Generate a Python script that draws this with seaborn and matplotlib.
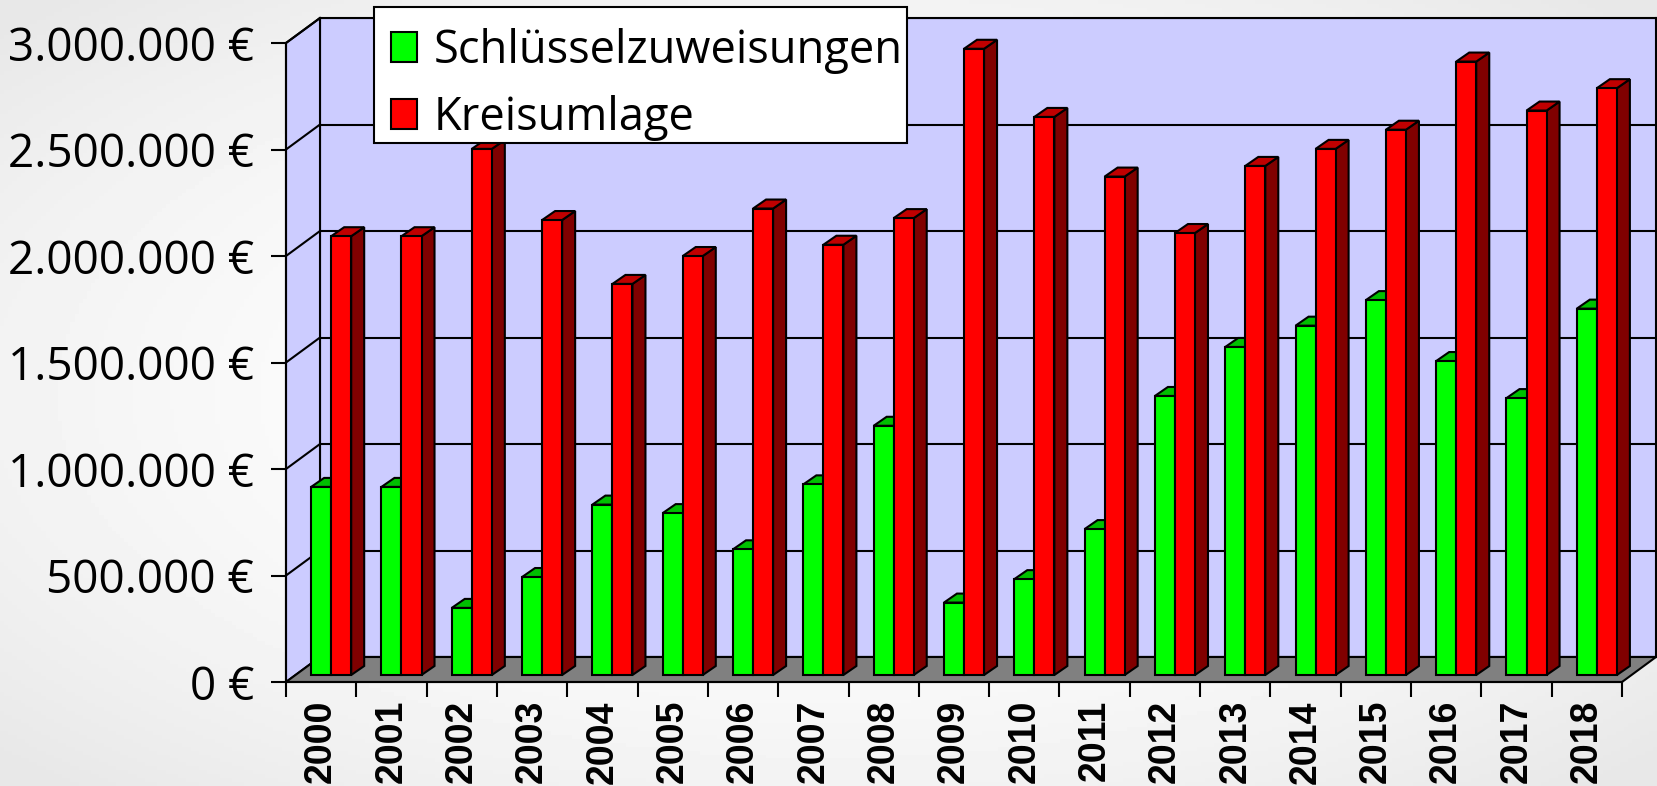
import numpy as np
import pandas as pd
import matplotlib
matplotlib.use("Agg")
import matplotlib.pyplot as plt
from matplotlib.patches import Polygon, Patch, Rectangle
from matplotlib.lines import Line2D
import seaborn as sns

# ---------------- data ----------------
years = ["2000", "2001", "2002", "2003", "2004", "2005", "2006", "2007", "2008", "2009",
         "2010", "2011", "2012", "2013", "2014", "2015", "2016", "2017", "2018"]
schluesselzuweisungen = [883000, 883000, 315000, 460000, 800000, 760000, 590000, 895000, 1170000, 340000,
                         450000, 685000, 1310000, 1540000, 1640000, 1760000, 1474000, 1300000, 1720000]
kreisumlage = [2060000, 2060000, 2470000, 2136000, 1836000, 1967000, 2190000, 2020000, 2145000, 2940000,
               2620000, 2340000, 2075000, 2390000, 2470000, 2560000, 2880000, 2650000, 2755000]
series_names = ["Schlüsselzuweisungen", "Kreisumlage"]
ytick_values = [0, 500000, 1000000, 1500000, 2000000, 2500000, 3000000]
ytick_labels = ["0 €", "500.000 €", "1.000.000 €", "1.500.000 €", "2.000.000 €", "2.500.000 €", "3.000.000 €"]

df = pd.DataFrame({
    "Jahr": years * 2,
    "Betrag": schluesselzuweisungen + kreisumlage,
    "Reihe": [series_names[0]] * len(years) + [series_names[1]] * len(years),
})

# ---------------- style ----------------
front_col = {series_names[0]: "#00FF00", series_names[1]: "#FF0000"}
top_col = {"#00FF00": "#00C000", "#FF0000": "#C00000"}
side_col = {"#00FF00": "#008000", "#FF0000": "#800000"}
wall_col = "#CCCCFF"
floor_col = "#808080"
LW = 1.5

W, H = 1657, 786
fig = plt.figure(figsize=(W / 100, H / 100), dpi=100)

# background radial gradient
bg = fig.add_axes([0, 0, 1, 1], zorder=-10)
gx, gy = np.meshgrid(np.linspace(-1, 1, 400), np.linspace(-1, 1, 200))
rr = np.clip(np.sqrt(gx ** 2 + gy ** 2) / 1.35, 0, 1)
bg.imshow(1 - 0.09 * rr ** 2, cmap="gray", vmin=0, vmax=1, aspect="auto", extent=[0, 1, 0, 1])
bg.axis("off")


def axpos(left, right, y0, ytop):
    return [left / W, (H - y0) / H, (right - left) / W, (y0 - ytop) / H]


# planes: front, bar, back (pixel geometry of the oblique 3D box)
ax_back = fig.add_axes(axpos(320, 1656, 657, 18), zorder=0)
ax_bars = fig.add_axes(axpos(296, 1632, 675, 36), zorder=1)
ax_front = fig.add_axes(axpos(286, 1622, 682, 43), zorder=2)

n = len(years)
xlim = (-0.5, n - 0.5)
ylim = (0, 3000000)

# ---- back wall ----
ax_back.set_facecolor(wall_col)
ax_back.set_xlim(*xlim)
ax_back.set_ylim(*ylim)
ax_back.set_xticks([])
ax_back.set_yticks(ytick_values)
ax_back.tick_params(left=False, labelleft=False)
ax_back.grid(axis="y", color="black", linewidth=LW)
for s in ax_back.spines.values():
    s.set_color("black")
    s.set_linewidth(LW)

# ---- bars (front faces via seaborn) ----
ax_bars.patch.set_alpha(0)
sns.barplot(data=df, x="Jahr", y="Betrag", hue="Reihe", hue_order=series_names,
            palette=front_col, width=0.57, gap=0, saturation=1, errorbar=None,
            edgecolor="black", linewidth=LW, legend=False, ax=ax_bars)
ax_bars.set_xlim(*xlim)
ax_bars.set_ylim(*ylim)
ax_bars.axis("off")

fig.canvas.draw()
bb = ax_bars.get_window_extent()
ddx = 13 / (bb.width / (xlim[1] - xlim[0]))
ddy = 9 / (bb.height / (ylim[1] - ylim[0]))

for p in list(ax_bars.patches):
    x0 = p.get_x()
    x1 = x0 + p.get_width()
    h = p.get_height()
    fc = matplotlib.colors.to_hex(p.get_facecolor()).upper()
    z = 2 if fc == "#00FF00" else 4
    p.set_zorder(z + 0.5)
    side = Polygon([(x1, 0), (x1, h), (x1 + ddx, h + ddy), (x1 + ddx, ddy)], closed=True,
                   facecolor=side_col[fc], edgecolor="black", linewidth=LW, zorder=z, clip_on=False)
    top = Polygon([(x0, h), (x1, h), (x1 + ddx, h + ddy), (x0 + ddx, h + ddy)], closed=True,
                  facecolor=top_col[fc], edgecolor="black", linewidth=LW, zorder=z, clip_on=False)
    ax_bars.add_patch(side)
    ax_bars.add_patch(top)
    p.set_clip_on(False)

# ---- floor and side wall (from the plane geometry) ----
ax_front.set_xlim(*xlim)
ax_front.set_ylim(*ylim)
fig.canvas.draw()
to_fig = fig.transFigure.inverted()


def fpt(ax, x, y):
    return to_fig.transform(ax.transData.transform((x, y)))


floor = Polygon([fpt(ax_front, xlim[0], 0), fpt(ax_front, xlim[1], 0),
                 fpt(ax_back, xlim[1], 0), fpt(ax_back, xlim[0], 0)], closed=True,
                transform=fig.transFigure, facecolor=floor_col, edgecolor="black",
                linewidth=LW, zorder=0.5, clip_on=False)
ax_bars.add_patch(floor)

side_wall = Polygon([fpt(ax_front, xlim[0], 0), fpt(ax_front, xlim[0], ylim[1]),
                     fpt(ax_back, xlim[0], ylim[1]), fpt(ax_back, xlim[0], 0)], closed=True,
                    transform=fig.transFigure, facecolor=wall_col, edgecolor="black",
                    linewidth=LW, zorder=0.4, clip_on=False)
ax_bars.add_patch(side_wall)
for v in ytick_values[1:]:
    a = fpt(ax_front, xlim[0], v)
    b = fpt(ax_back, xlim[0], v)
    ax_bars.add_line(Line2D([a[0], b[0]], [a[1], b[1]], transform=fig.transFigure,
                            color="black", linewidth=LW, zorder=0.45, clip_on=False))

# ---- front axes: ticks & labels ----
ax_front.patch.set_alpha(0)
for k in ["top", "right"]:
    ax_front.spines[k].set_visible(False)
for k in ["left", "bottom"]:
    ax_front.spines[k].set_color("black")
    ax_front.spines[k].set_linewidth(LW)
ax_front.set_yticks(ytick_values)
ax_front.set_yticklabels(ytick_labels, fontfamily="Open Sans", fontsize=33)
ax_front.tick_params(axis="y", direction="out", length=11, width=LW, pad=12, colors="black")
ax_front.set_xticks(range(n))
ax_front.set_xticklabels(years, rotation=90, fontfamily="Liberation Sans",
                         fontweight="bold", fontsize=27, va="top")
ax_front.set_xticks(np.arange(n + 1) - 0.5, minor=True)
ax_front.tick_params(axis="x", which="major", length=0, pad=13)
ax_front.tick_params(axis="x", which="minor", direction="out", length=11, width=LW)

# ---- legend (box drawn separately so the rows sit as in the original) ----
box = Rectangle((374 / W, 1 - 143 / H), (907 - 374) / W, (143 - 7) / H,
                transform=fig.transFigure, facecolor="white", edgecolor="black",
                linewidth=LW, zorder=9)
fig.add_artist(box)
handles = [Patch(facecolor=front_col[s], edgecolor="black", linewidth=LW) for s in series_names]
leg = fig.legend(handles, series_names, loc="upper left", bbox_to_anchor=(391 / W, 1 - 28 / H),
                 bbox_transform=fig.transFigure, frameon=False, borderaxespad=0,
                 prop={"family": "Open Sans", "size": 32.6},
                 handlelength=0.58, handleheight=0.66, handletextpad=0.36,
                 labelspacing=0.46, borderpad=0)
leg.set_zorder(10)

fig.savefig("out.png", dpi=100)
